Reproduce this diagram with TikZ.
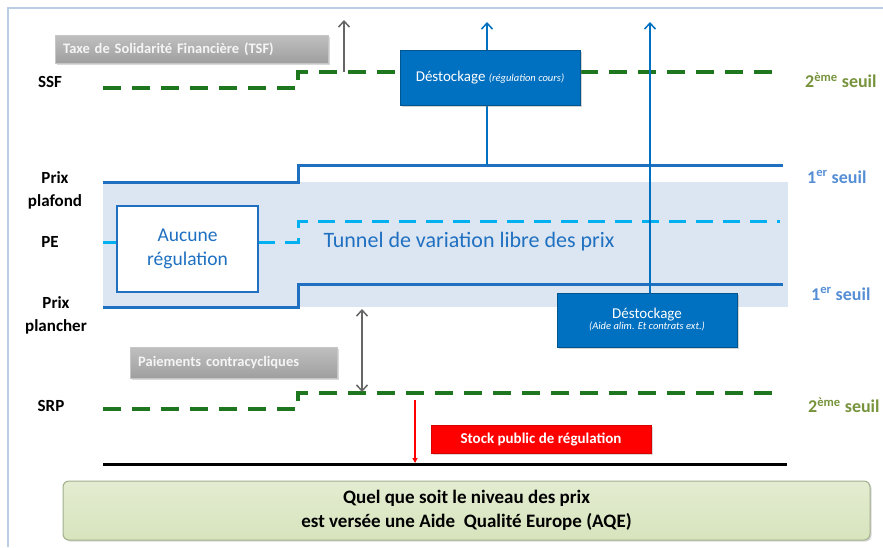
\documentclass[tikz,border=0pt]{standalone}
\usepackage{fontspec}
\setmainfont{Carlito}
\usetikzlibrary{arrows.meta, shadows}

\definecolor{seuilgreen}{RGB}{30,118,30}
\definecolor{seuiltext}{RGB}{119,147,60}
\definecolor{prixblue}{RGB}{31,112,193}
\definecolor{seuilblue}{RGB}{85,142,213}
\definecolor{peblue}{RGB}{0,176,240}
\definecolor{tunnelfill}{RGB}{220,230,242}
\definecolor{stockblue}{RGB}{0,112,192}
\definecolor{framecol}{RGB}{185,205,229}
\definecolor{aqefill}{RGB}{215,228,189}
\definecolor{aqedraw}{RGB}{160,175,140}

\newcommand{\pxfont}[2]{\fontsize{#1}{#2}\selectfont}

\begin{document}
\begin{tikzpicture}[x=1pt, y=-1pt, every node/.style={inner sep=0pt},
  axislbl/.style={font=\bfseries\pxfont{17}{23}, align=center},
  seuillbl/.style={font=\bfseries\pxfont{18}{22}, anchor=west},
  seuil2/.style={seuilgreen, line width=3.5pt, dash pattern=on 18pt off 11pt},
  prix/.style={prixblue, line width=3pt},
  pe/.style={peblue, line width=3pt, dash pattern=on 17pt off 10pt},
  graybox/.style={draw=gray!45, top color=gray!50, bottom color=gray!75, text=gray!8,
    font=\bfseries\pxfont{14.5}{16}, anchor=west, text width=#1, inner xsep=8pt,
    drop shadow={opacity=0.3, shadow xshift=1.5pt, shadow yshift=-1.5pt}},
  bluebox/.style={draw=stockblue!75!black, fill=stockblue, text=white, align=center,
    drop shadow={opacity=0.35, shadow xshift=1.5pt, shadow yshift=-1.5pt}},
  up/.style={-{Straight Barb[length=6pt, width=11pt, line width=1.5pt]}}]
\useasboundingbox (0,0) rectangle (883,547);

% Frame
\draw[framecol, line width=1.2pt] (8,547) -- (8,8) -- (883,8);

% Tunnel
\fill[tunnelfill] (103,182) rectangle (788,307);

% Thresholds
\draw[seuil2] (103,88) -- (298,88) -- (298,72) -- (780,72);
\draw[prix] (103,182) -- (298,182) -- (298,165) -- (783,165);
\draw[pe] (103,242) -- (117,242);
\draw[pe] (258,242) -- (298,242) -- (298,221) -- (780,221);
\draw[prix] (103,307) -- (298,307) -- (298,284) -- (783,284);
\draw[seuil2] (103,409) -- (298,409) -- (298,393) -- (780,393);
\draw[black, line width=3pt] (103,464) -- (787,464);

% Axis labels
\node[axislbl] (ssf) at (50,82) {SSF};
\node[axislbl] (plafond) at (55,190) {Prix\\plafond};
\node[axislbl] (pe) at (50,242) {PE};
\node[axislbl] (plancher) at (56,315) {Prix\\plancher};
\node[axislbl] (srp) at (51,406) {SRP};
\node[seuillbl, text=seuiltext] (seuilA) at (805,80) {2\textsuperscript{ème} seuil};
\node[seuillbl, text=seuilblue] (seuilB) at (807,177) {1\textsuperscript{er} seuil};
\node[seuillbl, text=seuilblue] (seuilC) at (811,294) {1\textsuperscript{er} seuil};
\node[seuillbl, text=seuiltext] (seuilD) at (808,405) {2\textsuperscript{ème} seuil};

% Anchor points of arrows
\coordinate (tsfFoot) at (344,72);
\coordinate (tsfTip) at (344,20);
\coordinate (coursFoot) at (487,165);
\coordinate (coursTip) at (487,22);
\coordinate (aideTip) at (650,22);
\coordinate (pcTop) at (362,309);
\coordinate (pcBot) at (362,392);
\coordinate (stockFoot) at (415,400);
\coordinate (stockTip) at (415,463);

% Arrows
\draw[up, gray!80!black, line width=2pt] (tsfFoot) -- (tsfTip);
\draw[up, stockblue, line width=2pt] (coursFoot) -- (coursTip);
\draw[{Straight Barb[length=6pt, width=11pt, line width=1.5pt]}-{Straight Barb[length=6pt, width=11pt, line width=1.5pt]}, gray!80!black, line width=2pt] (pcTop) -- (pcBot);
\draw[-{Triangle[length=5pt, width=5pt]}, red, line width=1.2pt] (stockFoot) -- (stockTip);

% Boxes
\node[graybox=257pt, minimum height=28pt] (tsf) at (55,49) {Taxe de Solidarité Financière (TSF)};
\node[graybox=191pt, minimum height=31pt] (paiements) at (130,362.5) {Paiements contracycliques};
\node[bluebox, minimum width=180pt, minimum height=55pt] (cours) at (490,78)
  {\pxfont{15}{17}Déstockage {\itshape\pxfont{10.5}{12}(régulation cours)}};
\node[bluebox, minimum width=180pt, minimum height=54pt] (aide) at (647,320)
  {\pxfont{15}{19}Déstockage\\[-1pt]{\itshape\pxfont{10.5}{12}(Aide alim. Et contrats ext.)}};
\draw[up, stockblue, line width=2pt] (aide.north -| aideTip) -- (aideTip);
\node[draw=prixblue, line width=2pt, fill=white, minimum width=141pt, minimum height=86pt,
  text=prixblue, align=center, font=\pxfont{19.5}{24}] (aucune) at (187.5,249) {Aucune\\régulation};
\node[text=prixblue, font=\pxfont{22}{26}] (tunnel) at (469,242) {Tunnel de variation libre des prix};
\node[fill=red, draw=red!85!black, text=white, font=\bfseries\pxfont{15}{17},
  minimum width=220pt, minimum height=28pt,
  drop shadow={opacity=0.3, shadow xshift=1.5pt, shadow yshift=-1.5pt}] (stock) at (541,439) {Stock public de régulation};
\node[draw=aqedraw, rounded corners=6pt, top color=aqefill!70, bottom color=aqefill, line width=1pt,
  minimum width=807pt, minimum height=59pt, align=center, font=\bfseries\pxfont{19}{24},
  drop shadow={opacity=0.3, shadow xshift=1.5pt, shadow yshift=-1.5pt}] (aqe) at (466.5,510.5)
  {Quel que soit le niveau des prix\\est versée une Aide\ \ Qualité Europe (AQE)};
\end{tikzpicture}
\end{document}
